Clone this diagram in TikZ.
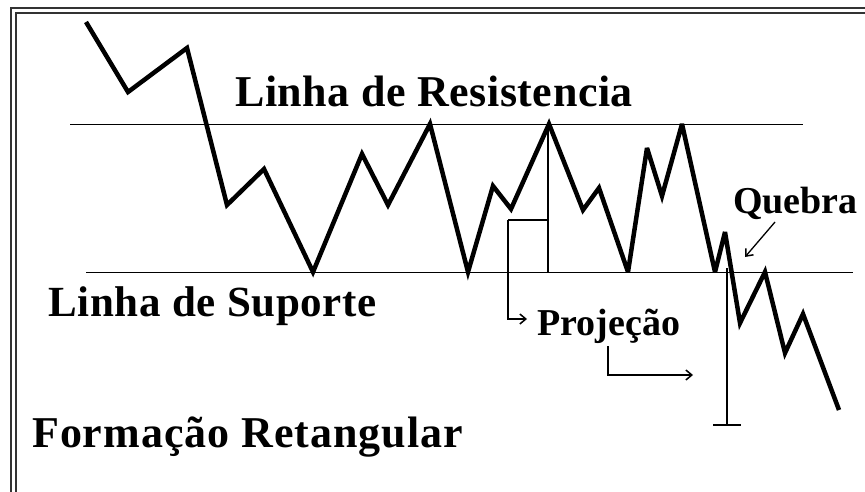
\documentclass[tikz,border=0pt]{standalone}
\usepackage{fontspec}
\setmainfont{Liberation Serif}
\usetikzlibrary{arrows.meta}
\begin{document}
\begin{tikzpicture}[x=1pt,y=-1pt,
  price/.style={line width=4.5pt,line join=miter,miter limit=4},
  thin/.style={line width=1.8pt},
  frameline/.style={line width=2pt,black!80},
  barb/.style={-{Straight Barb[length=6pt,width=10pt,line width=1.5pt]}},
  lbl/.style={anchor=base west,inner sep=0pt,font=\bfseries}]
\useasboundingbox (0,0) rectangle (865,492);
\fill[white] (0,0) rectangle (865,492);
% frame
\draw[frameline] (11,492) -- (11,8.5) -- (865,8.5);
\draw[frameline] (16,492) -- (16,13.5) -- (865,13.5);
% resistance and support lines
\coordinate (rL) at (70,124.5);
\coordinate (rR) at (803,124.5);
\coordinate (sL) at (86,272.5);
\coordinate (sR) at (853,272.5);
\draw[thin] (rL) -- (rR);
\draw[thin] (sL) -- (sR);
% projection markers
\coordinate (pTop) at (548,124.5);
\coordinate (pBot) at (548,272.5);
\coordinate (bTop) at (508,220);
\coordinate (bCorner) at (508,319);
\coordinate (bEnd) at (527,319);
\draw[thin] (pTop) -- (pBot);
\draw[thin] (pTop |- bTop) -- (bTop);
\draw[thin,barb] (bTop) -- (bCorner) -- (bEnd);
\coordinate (cTop) at (608,346);
\coordinate (cCorner) at (608,375);
\coordinate (cEnd) at (693,375);
\draw[thin,barb] (cTop) -- (cCorner) -- (cEnd);
\coordinate (vTop) at (727,268);
\coordinate (vBot) at (727,425);
\draw[thin] (vTop) -- (vBot);
\draw[thin] (713,425) -- (741,425);
% quebra arrow
\coordinate (qA) at (775,222);
\coordinate (qB) at (745,257);
\draw[line width=1.3pt,barb] (qA) -- (qB);
% price line
\draw[price] (86,22) -- (128,92) -- (187,48) -- (227,205) -- (264,169)
  -- (313,272) -- (362,154) -- (388,205) -- (430,124) -- (468,272)
  -- (493,186) -- (511,209) -- (549,124) -- (583,210) -- (599,188)
  -- (628,272) -- (647,148) -- (662,196) -- (682,124) -- (715,272)
  -- (725,232) -- (740,323) -- (765,272) -- (785,353) -- (803,314)
  -- (839,410);
% labels
\node[lbl,font=\bfseries\fontsize{44}{44}\selectfont\addfontfeatures{LetterSpace=1.2}] (res) at (235,107) {Linha de Resistencia};
\node[lbl,font=\bfseries\fontsize{43}{43}\selectfont\addfontfeatures{LetterSpace=1.5}] (sup) at (48,316) {Linha de Suporte};
\node[lbl,font=\bfseries\fontsize{44}{44}\selectfont\addfontfeatures{LetterSpace=2.2}] (form) at (32,447) {Formação Retangular};
\node[lbl,font=\bfseries\fontsize{38}{38}\selectfont] (proj) at (537,335) {Projeção};
\node[lbl,font=\bfseries\fontsize{38}{38}\selectfont] (queb) at (733,213) {Quebra};
\end{tikzpicture}
\end{document}
